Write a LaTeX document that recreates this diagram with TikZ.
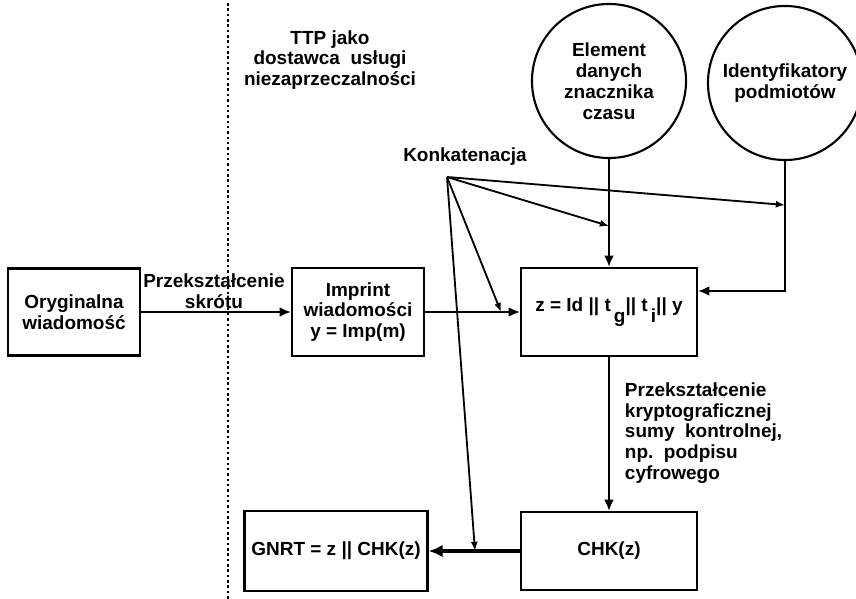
\documentclass[tikz,border=0pt]{standalone}
\usepackage{fontspec}
\setmainfont{Liberation Sans}
\usetikzlibrary{arrows.meta}

\begin{document}
\begin{tikzpicture}[x=0.025cm, y=-0.025cm,
    font=\fontsize{13.5}{14.8}\selectfont\bfseries,
    blok/.style={draw, line width=1.5pt, align=center, inner sep=0pt},
    kolo/.style={draw, circle, line width=1.5pt, align=center, minimum size=3.85cm, inner sep=0pt},
    strz/.style={line width=1.5pt, -{Latex[length=8pt,width=7pt]}},
    konkstrz/.style={line width=1.3pt, -{Latex[length=6.5pt,width=5pt]}}]

    \useasboundingbox (0,0) rectangle (856,599);

    % granica TTP
    \draw[dotted, line width=1.8pt] (228,3) -- (228,599);
    \node[align=center] (ttp) at (330,60) {TTP jako\\dostawca\ \ usługi\\niezaprzeczalności};

    % Wiersz 1: wiadomosc -> imprint -> z
    \node[blok, minimum width=3.3cm, minimum height=2.175cm] (oryg) at (74,312)
        {Oryginalna\\wiadomość};
    \node[blok, minimum width=3.3cm, minimum height=2.2cm] (imprint) at (358,312)
        {Imprint\\wiadomości\\y = Imp(m)};
    \node[blok, minimum width=4.4cm, minimum height=2.2cm] (z) at (609,312)
        {z = Id || t\,\raisebox{-1.1ex}{g}|| t\,\raisebox{-1.1ex}{i}|| y};
    \node[align=center] (skrot) at (214,291) {Przekształcenie\\skrótu};

    % Kola u gory
    \node[kolo] (elem) at (609,81) {Element\\danych\\znacznika\\czasu};
    \node[kolo] (ident) at (785,83) {Identyfikatory\\podmiotów};

    % Wiersz 2: CHK -> GNRT
    \node[blok, minimum width=4.4cm, minimum height=1.95cm] (chk) at (609,551) {CHK(z)};
    \node[blok, minimum width=4.575cm, minimum height=2cm] (gnrt) at (336,551)
        {GNRT = z || CHK(z)};
    \node[anchor=west, align=left] (sumalab) at (620,433)
        {Przekształcenie\\kryptograficznej\\sumy\ \ kontrolnej,\\np.\ \ podpisu\\cyfrowego};

    % Polaczenia
    \draw[strz] (oryg.east) -- (imprint.west);
    \draw[strz] (imprint.east) -- (z.west);
    \draw[strz] (elem.south) -- (z.north);
    \draw[strz] (ident.south) |- ([yshift=0.525cm]z.east);
    \draw[strz] (z.south) -- (chk.north);
    \draw[line width=2.4pt, -{Latex[length=10pt,width=9pt]}] (chk.west) -- (gnrt.east);

    % Konkatenacja
    \node (konklab) at (465,157) {Konkatenacja};
    \coordinate (konk) at (447,177);
    \coordinate (k1) at (609,226);
    \coordinate (k2) at (785,205);
    \coordinate (k3) at (501,312);
    \coordinate (k4) at (475,551);
    \foreach \k in {k1, k2, k3, k4} {
        \draw[konkstrz] (konk) -- (\k);
    }

\end{tikzpicture}
\end{document}
